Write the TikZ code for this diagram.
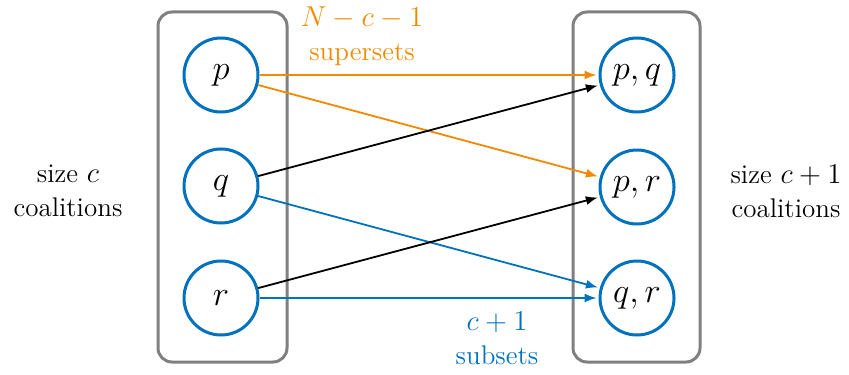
\documentclass[tikz,border=0pt]{standalone}
\usepackage{tikz}
\usetikzlibrary{arrows.meta,positioning}
\definecolor{grp}{HTML}{808080}
\definecolor{cblue}{HTML}{0072BD}
\definecolor{corange}{HTML}{F18A00}
\tikzset{coal/.style={circle,draw=cblue,line width=1.5pt,minimum size=37pt,inner sep=0pt,font=\fontsize{16}{18}\selectfont},
grpbox/.style={draw=grp,line width=1.5pt,rounded corners=7pt},
lbl/.style={align=center,inner sep=1pt,font=\fontsize{13.5}{17}\selectfont},
arr/.style={-{Latex[length=6pt,width=4.5pt]},line width=0.9pt,shorten >=1pt}}

\begin{document}
\begin{tikzpicture}[x=0.5pt,y=-0.5pt]
\useasboundingbox (0,0) rectangle (849,374);
\draw[grpbox] (158,12) rectangle (287,362);
\draw[grpbox] (573,12) rectangle (700,362);
\node[coal] (p) at (221,75) {$p$};
\node[coal] (q) at (221,186) {$q$};
\node[coal] (r) at (221,298) {$r$};
\node[coal] (pq) at (637,75) {$p,q$};
\node[coal] (pr) at (637,187) {$p,r$};
\node[coal] (qr) at (637,298) {$q,r$};
\node[lbl] (sc) at (68,191) {size $c$\\coalitions};
\node[lbl] (sc1) at (786,191) {size $c+1$\\coalitions};
\node[lbl,text=corange] (sup) at (362,36) {$N-c-1$\\supersets};
\node[lbl,text=cblue] (sub) at (497,338) {$c+1$\\subsets};
\draw[arr,draw=corange] (p) -- (pq);
\draw[arr,draw=corange] (p) -- (pr);
\draw[arr,draw=black] (q) -- (pq);
\draw[arr,draw=cblue] (q) -- (qr);
\draw[arr,draw=black] (r) -- (pr);
\draw[arr,draw=cblue] (r) -- (qr);
\end{tikzpicture}
\end{document}
